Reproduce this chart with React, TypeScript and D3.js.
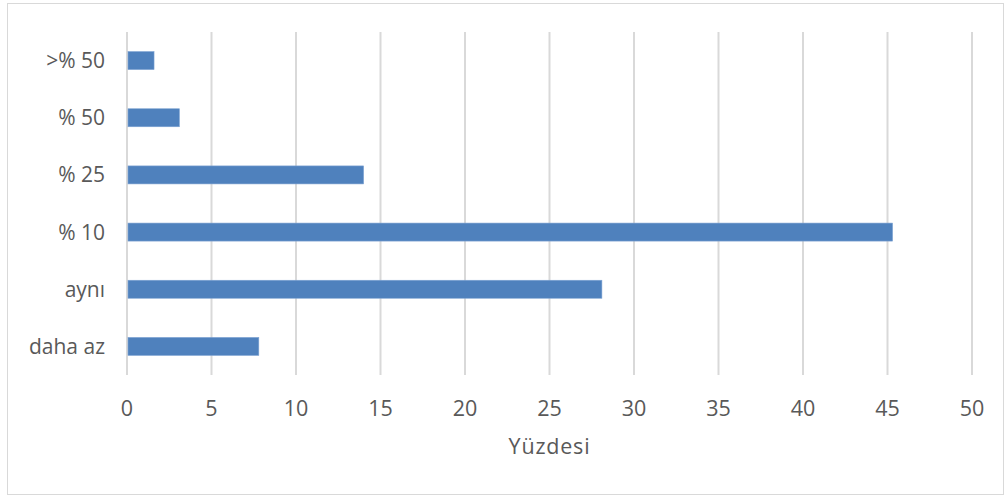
import React, { useEffect, useRef } from "react";
import * as d3 from "d3";

// categories listed top to bottom
const categories = [">% 50", "% 50", "% 25", "% 10", "aynı", "daha az"];
const values = [1.6, 3.1, 14.0, 45.3, 28.1, 7.8];
const xTicks = [0, 5, 10, 15, 20, 25, 30, 35, 40, 45, 50];
const xTitle = "Yüzdesi";

const width = 1006;
const height = 496;
const margin = { top: 32, right: 34, bottom: 121, left: 127 };
const font = "'Open Sans', 'Noto Sans', sans-serif";
const textColor = "#595959";

export default function App() {
  const ref = useRef<SVGSVGElement>(null);

  useEffect(() => {
    const svg = d3.select(ref.current);
    svg.selectAll("*").remove();

    const xScale = d3.scaleLinear()
      .domain([0, 50])
      .range([margin.left, width - margin.right]);

    const yScale = d3.scaleBand()
      .domain(categories)
      .range([margin.top, height - margin.bottom])
      .paddingInner(0.685)
      .paddingOuter(0.3425);

    // chart area border
    svg.append("rect")
      .attr("x", 7.5)
      .attr("y", 3.5)
      .attr("width", 996)
      .attr("height", 491)
      .attr("fill", "white")
      .attr("stroke", "#d9d9d9")
      .attr("stroke-width", 1);

    // gridlines
    svg.append("g")
      .selectAll("line")
      .data(xTicks)
      .join("line")
      .attr("x1", d => xScale(d))
      .attr("x2", d => xScale(d))
      .attr("y1", margin.top)
      .attr("y2", height - margin.bottom)
      .attr("stroke", "#d9d9d9")
      .attr("stroke-width", 2);

    // bars
    svg.append("g")
      .selectAll("rect")
      .data(categories)
      .join("rect")
      .attr("x", xScale(0) + 1)
      .attr("y", d => yScale(d)!)
      .attr("width", (d, i) => xScale(values[i]) - xScale(0) - 1)
      .attr("height", yScale.bandwidth())
      .attr("fill", "#4f81bd")
      .attr("stroke", "#7ea3d3")
      .attr("stroke-width", 0.6);

    // category labels
    svg.append("g")
      .selectAll("text")
      .data(categories)
      .join("text")
      .attr("x", 105)
      .attr("y", d => yScale(d)! + yScale.bandwidth() / 2)
      .attr("dy", "0.36em")
      .attr("text-anchor", "end")
      .style("font-family", font)
      .style("font-size", "21px")
      .style("fill", textColor)
      .text(d => d);

    // x tick labels
    svg.append("g")
      .selectAll("text")
      .data(xTicks)
      .join("text")
      .attr("x", d => xScale(d))
      .attr("y", 416)
      .attr("text-anchor", "middle")
      .style("font-family", font)
      .style("font-size", "21.5px")
      .style("fill", textColor)
      .text(d => d);

    svg.append("text")
      .attr("x", (xScale(0) + xScale(50)) / 2)
      .attr("y", 454)
      .attr("text-anchor", "middle")
      .style("font-family", font)
      .style("font-size", "21.5px")
      .style("letter-spacing", "0.8px")
      .style("fill", textColor)
      .text(xTitle);
  }, []);

  return (
    <svg
      ref={ref}
      width={width}
      height={height}
      style={{ position: "absolute", left: 0, top: 0, background: "white" }}
    />
  );
}
